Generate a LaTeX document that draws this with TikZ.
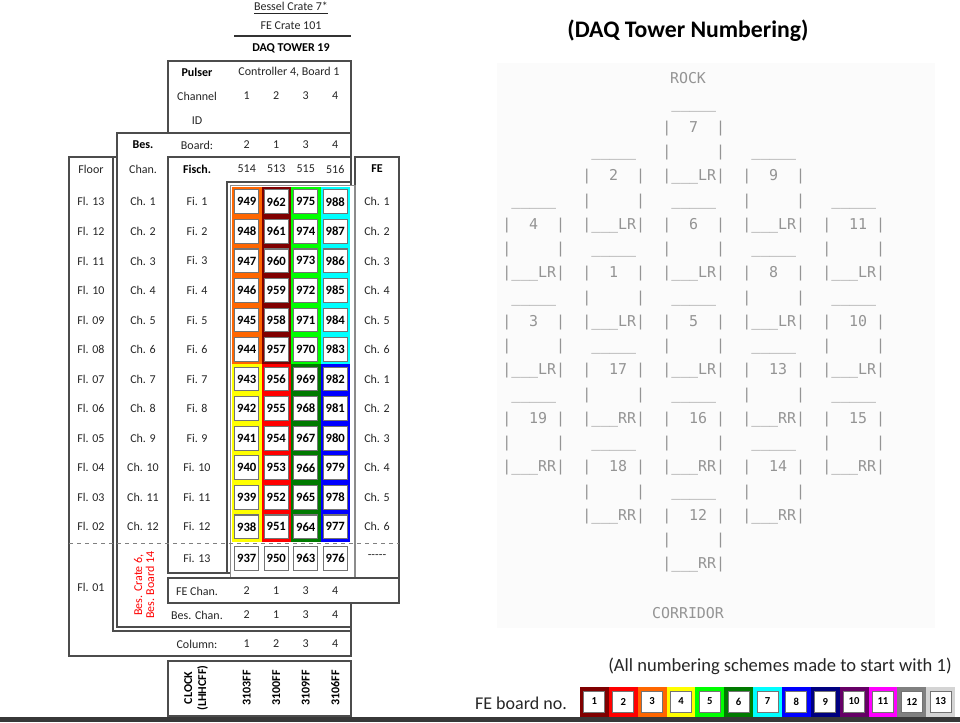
\documentclass[tikz,border=0pt]{standalone}
\usepackage{fontspec}
\setmainfont{Carlito}
\newfontfamily\artfont{DejaVu Sans Mono}

% FE board colours 1..13
\definecolor{fe1}{HTML}{800000}
\definecolor{fe2}{HTML}{FF0000}
\definecolor{fe3}{HTML}{FF6600}
\definecolor{fe4}{HTML}{FFFF00}
\definecolor{fe5}{HTML}{00FF00}
\definecolor{fe6}{HTML}{007A00}
\definecolor{fe7}{HTML}{00FFFF}
\definecolor{fe8}{HTML}{0000FF}
\definecolor{fe9}{HTML}{000080}
\definecolor{fe10}{HTML}{660066}
\definecolor{fe11}{HTML}{FF00FF}
\definecolor{fe12}{HTML}{808080}
\definecolor{fe13}{HTML}{D4D4D4}

% one tower of the sketch: x, baseline of number line, number, tag, name
\newcommand\tower[5]{%
  \node[art] (#5top) at (#1,{#2-24.25}) {~\_\_\_\_\_};
  \node[art] (#5num) at (#1,{#2})       {|~~#3~|};
  \node[art] (#5mid) at (#1,{#2+24.25}) {|~~~~~|};
  \node[art] (#5bot) at (#1,{#2+48.5})  {|\_\_\_#4|};
}

\begin{document}
\begin{tikzpicture}[x=0.75pt,y=-0.75pt]
  \def\cw{29.5}   % fibre cell width
  \def\rh{29.55}  % row pitch
  \def\xo{232}    % left of coloured cells
  \def\yo{187}    % top of coloured cells
  \tikzset{
    box/.style={draw=black!70, line width=0.8pt, fill=white},
    txt/.style={font=\fontsize{9}{11}\selectfont, text=black!85, inner sep=0pt},
    txtb/.style={font=\fontsize{9}{11}\selectfont\bfseries, text=black, inner sep=0pt},
    fib/.style={draw=black!55, line width=0.8pt, fill=white, inner sep=0pt,
      minimum width=18.3pt, minimum height=17.8pt, font=\fontsize{9.5}{11}\selectfont\bfseries},
    legbox/.style={draw=black!55, line width=0.7pt, fill=white, inner sep=0pt,
      minimum width=15.8pt, minimum height=15.8pt, font=\fontsize{8}{9}\selectfont\bfseries},
    art/.style={font=\artfont\fontsize{11.2}{13}\selectfont, text=black!42, inner sep=0pt, anchor=base west},
  }
  \useasboundingbox (0,0) rectangle (960,722);

  %--- Sketch background ---
  \fill[black!1.5] (497,63) rectangle (935,628);

  %--- Header ---
  \node[txt] (bessel) at (291,8)    {\underline{Bessel Crate 7*}};
  \node[txt] (fecrate) at (291,26)  {FE Crate 101};
  \draw[black!80, line width=1.1pt] (234,36) -- (351,36);
  \node[txtb] (tower) at (291,48)   {DAQ TOWER 19};

  %--- Boxes, back to front ---
  \draw[box] (69,157) rectangle (351,656);    % floor / column
  \draw[box] (113,157) rectangle (351,631);
  \draw[box] (117,133) rectangle (351,627);   % bessel
  \draw[box] (168,61) rectangle (351,133);    % pulser
  \draw[box] (355,157) rectangle (399,603);   % FE
  \draw[box] (168,157) rectangle (351,573);   % fischer
  \draw[box] (227,182) rectangle (351,573);
  \draw[draw=black!45, line width=0.8pt, fill=white] (230.5,185.5) rectangle (355,578);

  %--- Fibre cells ---
  \foreach \c/\top/\cA/\cB in {0/949/fe3/fe4, 1/962/fe1/fe2, 2/975/fe5/fe6, 3/988/fe7/fe8} {
    \fill[\cA] ({\xo+\c*\cw},\yo) rectangle ++(\cw,{6*\rh});
    \fill[\cB] ({\xo+\c*\cw},{\yo+6*\rh}) rectangle ++(\cw,{6*\rh});
    \foreach \r in {0,...,11} {
      \pgfmathtruncatemacro{\fibno}{\top-\r}
      \node[fib] (fib\c-\r) at ({\xo+(\c+0.5)*\cw},{\yo+(\r+0.5)*\rh}) {\fibno};
    }
    \pgfmathtruncatemacro{\fibno}{\top-12}
    \node[fib] (fib\c-12) at ({\xo+(\c+0.5)*\cw},558.5) {\fibno};
  }

  \draw[box] (168,578) rectangle (399,603);   % FE chan.
  \draw[box] (168,661) rectangle (351,716);   % clock
  \draw[black!50, dashed, line width=0.6pt] (69,543) -- (399,543);

  %--- Row labels ---
  \foreach \r in {0,...,11} {
    \pgfmathtruncatemacro{\fl}{13-\r}
    \pgfmathtruncatemacro{\ch}{\r+1}
    \pgfmathtruncatemacro{\fe}{mod(\r,6)+1}
    \node[txt] (fl\r) at (91,{\yo+(\r+0.5)*\rh})  {Fl. \ifnum\fl<10 0\fi\fl};
    \node[txt] (ch\r) at (143,{\yo+(\r+0.5)*\rh}) {Ch. \ch};
    \node[txt] (fi\r) at (197,{\yo+(\r+0.5)*\rh}) {Fi. \ch};
    \node[txt] (fe\r) at (377,{\yo+(\r+0.5)*\rh}) {Ch. \fe};
  }
  \node[txt] (fi12) at (197,558.5) {Fi. 13};
  \node[txt] (fe12) at (377,557)   {-{}-{}-{}-{}-};
  \node[txt] (fl12) at (91,587)    {Fl. 01};

  %--- Column headers ---
  \node[txtb] (pulser) at (197,72) {Pulser};
  \node[txt] (ctrl) at (289,72)    {Controller 4, Board 1};
  \node[txt] (chanlbl) at (197,96) {Channel};
  \node[txt] (idlbl) at (197,121)  {ID};
  \node[txt] (boardlbl) at (197,145) {Board:};
  \node[txtb] (bes) at (143,145)   {Bes.};
  \node[txt] (beschan) at (143,169) {Chan.};
  \node[txtb] (fisch) at (197,169) {Fisch.};
  \node[txt] (floor) at (91,169)   {Floor};
  \node[txtb] (felbl) at (377,169) {FE};
  \node[txt] (fechlbl) at (197,591) {FE Chan.};
  \node[txt] (besclbl) at (197,615) {Bes. Chan.};
  \node[txt] (collbl) at (197,644) {Column:};

  \foreach \y/\name/\vals in {96/chan/{1,2,3,4}, 145/board/{2,1,3,4}, 169/fisch/{514,513,515,516},
      591/fech/{2,1,3,4}, 615/besch/{2,1,3,4}, 644/col/{1,2,3,4}} {
    \foreach \v [count=\c from 0] in \vals {
      \node[txt] (\name\c) at ({\xo+(\c+0.5)*\cw},\y) {\v};
    }
  }

  \node[txt, text=red, rotate=90, align=center, font=\fontsize{9}{9}\selectfont]
    (bescrate) at (144,585) {Bes. Crate 6,\\Bes. Board 14};

  %--- Clock ---
  \node[txtb, rotate=90, align=center, font=\fontsize{9}{10.5}\selectfont\bfseries]
    (clock) at (196,688) {CLOCK\\(LHHCFF)};
  \foreach \v [count=\c from 0] in {3103FF,3100FF,3109FF,3106FF} {
    \node[txtb, rotate=90] (clk\c) at ({\xo+(\c+0.5)*\cw},688) {\v};
  }

  %--- Tower sketch ---
  \node[txtb, font=\fontsize{17.8}{20}\selectfont\bfseries] (title) at (688,31) {(DAQ Tower Numbering)};
  \node[art, anchor=center] (rock) at (688,78) {ROCK};
  \node[art, anchor=center] (corridor) at (688,613) {CORRIDOR};
  \foreach \x/\y/\n/\t [count=\i] in {
      662/127/7~/LR, 662/224/6~/LR, 662/321/5~/LR, 662/418/16/RR, 662/515/12/RR,
      582/175.5/2~/LR, 582/272.5/1~/LR, 582/369.5/17/RR, 582/466.5/18/RR,
      742/175.5/9~/LR, 742/272.5/8~/LR, 742/369.5/13/RR, 742/466.5/14/RR,
      502/224/4~/LR, 502/321/3~/LR, 502/418/19/RR,
      822/224/11/LR, 822/321/10/LR, 822/418/15/RR} {
    \tower{\x}{\y+5.45}{\n}{\t}{tw\i}
  }

  %--- Legend ---
  \node[txt, font=\fontsize{13.9}{16}\selectfont] (note) at (780,666) {(All numbering schemes made to start with 1)};
  \node[txt, font=\fontsize{13.5}{16}\selectfont] (legtitle) at (521,703) {FE board no.};
  \foreach \n in {1,...,13} {
    \fill[fe\n] ({580+28.85*(\n-1)},687) rectangle ++(28.85,29.5);
    \node[legbox] (leg\n) at ({580+28.85*(\n-0.5)},701.5) {\n};
  }

  %--- Bottom strip ---
  \fill[black!78] (0,717) rectangle (960,722);
\end{tikzpicture}
\end{document}
